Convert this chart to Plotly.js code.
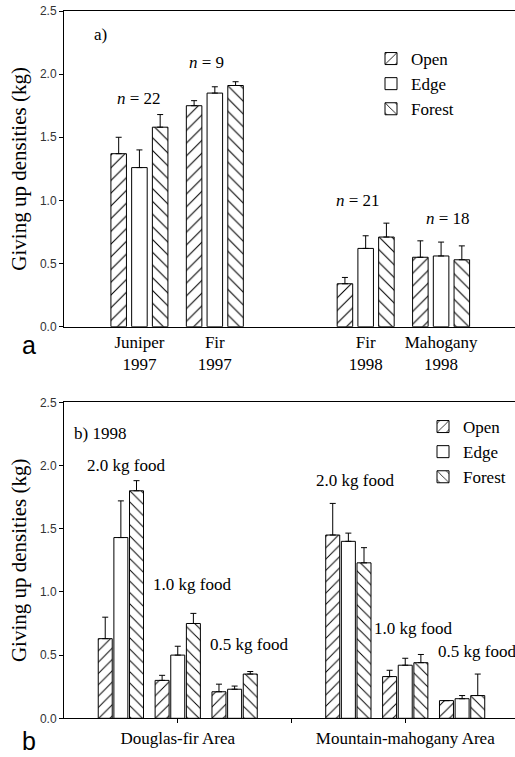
<!DOCTYPE html>
<html>
<head>
<meta charset="utf-8">
<script src="https://cdn.plot.ly/plotly-3.0.1.min.js"></script>
<style>html,body{margin:0;padding:0;background:#fff;}#chart{width:515px;height:757px;}</style>
</head>
<body>
<div id="chart"></div>
<script>
// ---------- data: panel a ----------
const topCats = ['Juniper 1997', 'Fir 1997', 'Fir 1998', 'Mahogany 1998'];
const topOrder = ['Juniper 1997', 'Fir 1997', ' ', 'Fir 1998', 'Mahogany 1998'];
const topTickText = ['Juniper<br>1997', 'Fir<br>1997', 'Fir<br>1998', 'Mahogany<br>1998'];
const topOpen = [1.37, 1.75, 0.34, 0.55];
const topOpenErr = [0.13, 0.04, 0.05, 0.13];
const topEdge = [1.26, 1.85, 0.62, 0.56];
const topEdgeErr = [0.14, 0.05, 0.10, 0.11];
const topForest = [1.58, 1.91, 0.71, 0.53];
const topForestErr = [0.10, 0.03, 0.11, 0.11];
const topNLabels = ['<i>n</i> = 22', '<i>n</i> = 9', '<i>n</i> = 21', '<i>n</i> = 18'];
const topNY = [1.81, 2.09, 1.00, 0.86];

// ---------- data: panel b ----------
const botCats = ['Douglas-fir 2.0', 'Douglas-fir 1.0', 'Douglas-fir 0.5',
                 'Mountain-mahogany 2.0', 'Mountain-mahogany 1.0', 'Mountain-mahogany 0.5'];
const botOrder = ['Douglas-fir 2.0', 'Douglas-fir 1.0', 'Douglas-fir 0.5', ' ',
                  'Mountain-mahogany 2.0', 'Mountain-mahogany 1.0', 'Mountain-mahogany 0.5'];
const botOpen = [0.63, 0.30, 0.21, 1.45, 0.33, 0.14];
const botOpenErr = [0.17, 0.04, 0.06, 0.25, 0.05, 0.0];
const botEdge = [1.43, 0.50, 0.23, 1.40, 0.42, 0.155];
const botEdgeErr = [0.29, 0.07, 0.025, 0.065, 0.055, 0.025];
const botForest = [1.80, 0.75, 0.35, 1.23, 0.44, 0.18];
const botForestErr = [0.08, 0.08, 0.02, 0.12, 0.065, 0.17];
const foodLabels = ['2.0 kg food', '1.0 kg food', '0.5 kg food', '2.0 kg food', '1.0 kg food', '0.5 kg food'];
const foodY = [2.00, 1.055, 0.58, 1.885, 0.712, 0.527];
const botTickVals = ['Douglas-fir 1.0', ' ', 'Mountain-mahogany 1.0'];
const botTickText = ['Douglas-fir Area', '', 'Mountain-mahogany Area'];

const seriesNames = ['Open', 'Edge', 'Forest'];
const yTicks = [0, 0.5, 1.0, 1.5, 2.0, 2.5];

// ---------- styles ----------
const SERIF = 'Liberation Serif';
const SANS = 'Liberation Sans';
const shapes = ['/', '', '\\'];

function mkTrace(name, idx, x, y, err, xa, ya, legend, w, psize) {
  return {
    type: 'bar', name: name, x: x, y: y, xaxis: xa, yaxis: ya, legend: legend,
    width: w,
    marker: {
      color: 'white',
      line: {color: 'black', width: 1},
      pattern: {shape: shapes[idx], fgcolor: 'black', bgcolor: 'white', size: psize, solidity: 0.12}
    },
    error_y: {type: 'data', symmetric: false, array: err, arrayminus: err.map(() => 0),
              color: 'black', thickness: 1, width: 3},
    hoverinfo: 'skip'
  };
}

const data = [
  mkTrace(seriesNames[0], 0, topCats, topOpen, topOpenErr, 'x', 'y', 'legend', 0.206, 9),
  mkTrace(seriesNames[1], 1, topCats, topEdge, topEdgeErr, 'x', 'y', 'legend', 0.206, 9),
  mkTrace(seriesNames[2], 2, topCats, topForest, topForestErr, 'x', 'y', 'legend', 0.206, 9),
  mkTrace(seriesNames[0], 0, botCats, botOpen, botOpenErr, 'x2', 'y2', 'legend2', 0.246, 8),
  mkTrace(seriesNames[1], 1, botCats, botEdge, botEdgeErr, 'x2', 'y2', 'legend2', 0.246, 8),
  mkTrace(seriesNames[2], 2, botCats, botForest, botForestErr, 'x2', 'y2', 'legend2', 0.246, 8)
];

const W = 515, H = 757;
const px = v => v / W;
const py = v => 1 - v / H;

const yAxisCommon = {
  range: [0, 2.5], tickmode: 'array', tickvals: yTicks, tickformat: '.1f',
  ticks: 'outside', ticklen: 4, tickcolor: 'black',
  showline: true, linecolor: 'black', linewidth: 1,
  showgrid: false, zeroline: false,
  tickfont: {family: SANS, size: 12, color: '#333'},
  title: {text: 'Giving up densities (kg)', font: {family: SERIF, size: 21, color: 'black'}, standoff: 7}
};

const annotations = [];
topCats.forEach((c, i) => annotations.push({
  xref: 'x', yref: 'y', x: c, y: topNY[i], text: topNLabels[i], showarrow: false,
  xshift: [0, -8, -8, 7][i],
  font: {family: SERIF, size: 17, color: 'black'}
}));
botCats.forEach((c, i) => annotations.push({
  xref: 'x2', yref: 'y2', x: c, y: foodY[i], text: foodLabels[i], showarrow: false,
  xshift: [5, 14, 14, 7, 8, 15][i],
  font: {family: SERIF, size: 17, color: 'black'}
}));
annotations.push({xref: 'paper', yref: 'paper', x: px(92), y: py(35), xanchor: 'left', yanchor: 'middle',
  text: 'a)', showarrow: false, font: {family: SERIF, size: 17, color: 'black'}});
annotations.push({xref: 'paper', yref: 'paper', x: px(72), y: py(433), xanchor: 'left', yanchor: 'middle',
  text: 'b) 1998', showarrow: false, font: {family: SERIF, size: 17, color: 'black'}});
annotations.push({xref: 'paper', yref: 'paper', x: px(28.5), y: py(345), xanchor: 'center', yanchor: 'middle',
  text: 'a', showarrow: false, font: {family: SANS, size: 25, color: 'black'}});
annotations.push({xref: 'paper', yref: 'paper', x: px(28.5), y: py(741), xanchor: 'center', yanchor: 'middle',
  text: 'b', showarrow: false, font: {family: SANS, size: 25, color: 'black'}});

const layout = {
  width: W, height: H,
  margin: {l: 0, r: 0, t: 0, b: 0},
  paper_bgcolor: 'white', plot_bgcolor: 'white',
  barmode: 'group', bargap: 0.175, bargroupgap: 0,
  showlegend: true,
  font: {family: SERIF, color: 'black'},
  xaxis: {
    domain: [px(64), 1], anchor: 'y', type: 'category',
    categoryorder: 'array', categoryarray: topOrder, range: [-1, 4.98],
    showline: true, mirror: true, linecolor: 'black', linewidth: 1,
    ticks: '', tickmode: 'array', tickvals: topCats, ticktext: topTickText,
    tickfont: {family: SERIF, size: 17, color: 'black'}, showgrid: false, zeroline: false
  },
  yaxis: Object.assign({}, yAxisCommon, {domain: [py(326.7), py(11)], anchor: 'x'}),
  xaxis2: {
    domain: [px(64), 1], anchor: 'y2', type: 'category',
    categoryorder: 'array', categoryarray: botOrder, range: [-1, 6.93],
    showline: true, mirror: true, linecolor: 'black', linewidth: 1,
    ticks: 'outside', ticklen: 4, tickcolor: 'black',
    tickmode: 'array', tickvals: botTickVals, ticktext: botTickText,
    tickfont: {family: SERIF, size: 17, color: 'black'}, showgrid: false, zeroline: false
  },
  yaxis2: Object.assign({}, yAxisCommon, {domain: [py(718.3), py(402.3)], anchor: 'x2'}),
  legend: {x: px(371), y: py(41), xanchor: 'left', yanchor: 'top', bgcolor: 'rgba(0,0,0,0)',
           font: {family: SERIF, size: 17, color: 'black'}, tracegroupgap: 0},
  legend2: {x: px(423), y: py(409), xanchor: 'left', yanchor: 'top', bgcolor: 'rgba(0,0,0,0)',
           font: {family: SERIF, size: 17, color: 'black'}, tracegroupgap: 0},
  annotations: annotations
};

Plotly.newPlot('chart', data, layout, {staticPlot: true, displayModeBar: false});
</script>
</body>
</html>
